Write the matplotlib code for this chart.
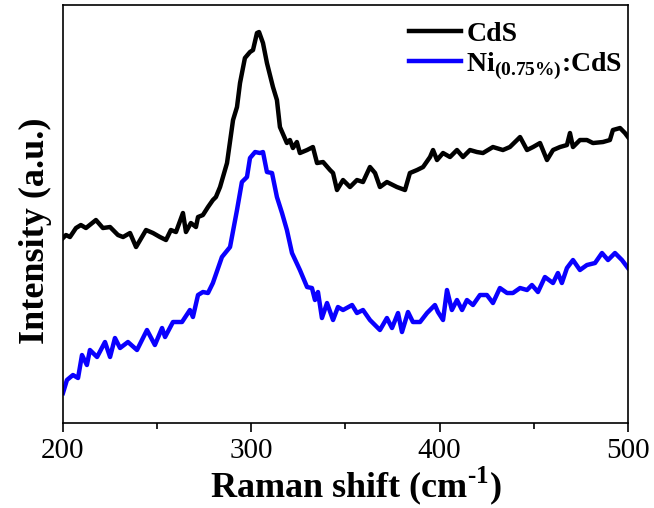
import numpy as np
import matplotlib.pyplot as plt
from matplotlib.ticker import MultipleLocator

plt.rcParams['font.family'] = 'Liberation Serif'
plt.rcParams['mathtext.fontset'] = 'custom'
plt.rcParams['mathtext.rm'] = 'Liberation Serif:bold'
plt.rcParams['mathtext.bf'] = 'Liberation Serif:bold'

## the data (Raman shift in cm-1, intensity in arbitrary units)
x_cds = [200.0, 201.6, 203.7, 206.9, 209.5, 212.2, 217.5, 221.2, 225.0, 229.2,
         231.9, 235.6, 238.8, 244.1, 247.8, 251.5, 254.7, 257.3, 260.0, 263.7,
         265.3, 267.9, 270.6, 271.7, 274.3, 277.0, 279.6, 281.2, 283.4, 287.1,
         290.3, 292.4, 294.0, 296.6, 299.3, 300.9, 303.0, 304.1, 306.2, 308.3,
         311.5, 313.6, 315.2, 318.9, 320.5, 322.1, 324.2, 325.8, 329.6, 332.7,
         334.9, 338.1, 341.8, 343.4, 345.5, 348.7, 352.4, 356.1, 359.3, 363.0,
         365.7, 368.3, 372.0, 377.3, 381.6, 384.2, 388.0, 391.2, 394.9, 396.5,
         398.6, 401.8, 405.5, 409.2, 412.4, 416.1, 419.8, 423.0, 428.3, 433.6,
         437.3, 441.1, 442.7, 446.4, 449.6, 453.3, 457.0, 460.2, 463.9, 467.6,
         469.2, 470.8, 474.5, 478.2, 481.4, 486.7, 490.4, 492.0, 495.8, 498.4,
         500.0]
y_cds = [185, 188, 186, 195, 198, 195, 203, 195, 196, 188,
         186, 190, 176, 193, 190, 186, 183, 193, 191, 210,
         191, 200, 196, 206, 208, 216, 223, 226, 236, 260,
         303, 316, 340, 365, 371, 373, 390, 391, 380, 360,
         336, 323, 296, 280, 283, 275, 281, 270, 273, 276,
         260, 261, 253, 250, 233, 243, 236, 243, 241, 256,
         250, 236, 241, 236, 233, 250, 253, 256, 266, 273,
         263, 270, 266, 273, 266, 273, 271, 270, 276, 273,
         276, 283, 286, 273, 276, 280, 263, 273, 276, 278,
         290, 276, 283, 283, 280, 281, 283, 293, 295, 290,
         286]

x_ni = [200.0, 202.1, 205.3, 208.0, 210.1, 212.7, 214.3, 218.1, 222.3, 225.0,
        227.6, 230.3, 234.5, 239.3, 244.6, 248.8, 252.6, 254.2, 258.4, 263.2,
        267.4, 269.0, 271.7, 274.3, 277.0, 279.6, 284.4, 288.7, 292.4, 295.0,
        297.7, 299.3, 302.0, 304.6, 306.2, 308.3, 311.0, 313.6, 316.3, 318.9,
        321.6, 325.8, 329.6, 332.2, 333.8, 335.4, 337.5, 340.2, 343.4, 346.0,
        348.7, 353.5, 356.1, 359.3, 363.0, 368.3, 372.0, 374.7, 377.9, 380.0,
        383.2, 385.8, 389.6, 393.3, 397.5, 399.1, 401.8, 403.9, 406.5, 409.2,
        411.9, 414.5, 417.7, 421.4, 425.1, 428.3, 432.0, 435.8, 438.9, 442.7,
        446.4, 449.0, 452.2, 455.9, 460.2, 462.8, 464.9, 467.6, 470.8, 474.5,
        478.2, 482.5, 486.2, 489.4, 493.1, 496.8, 500.0]
y_ni = [30, 43, 48, 45, 68, 58, 73, 66, 81, 66,
        85, 75, 81, 73, 93, 78, 95, 86, 101, 101,
        113, 106, 128, 131, 130, 140, 166, 176, 213, 241,
        246, 265, 271, 270, 271, 251, 250, 226, 210, 193,
        170, 153, 136, 135, 123, 131, 105, 120, 103, 116,
        113, 118, 110, 113, 103, 93, 105, 95, 110, 91,
        111, 101, 101, 110, 118, 111, 103, 133, 113, 123,
        113, 123, 118, 128, 128, 120, 135, 130, 130, 135,
        133, 138, 131, 146, 140, 150, 140, 155, 163, 153,
        158, 160, 170, 163, 170, 163, 155]

fig = plt.figure(figsize=(6.54, 5.08), dpi=100)
ax = fig.add_axes([0.0963, 0.1673, 0.8639, 0.8228])

ax.plot(x_cds, y_cds, color='black', lw=3.2, label='CdS')
ax.plot(x_ni, y_ni, color='#0a00ff', lw=3.2, label=r'Ni$_{\mathbf{(0.75\%)}}$:CdS')

# axes and labels
ax.set_xlim(200, 500)
ax.set_ylim(0, 418)
ax.xaxis.set_major_locator(MultipleLocator(100))
ax.xaxis.set_minor_locator(MultipleLocator(50))
ax.set_yticks([])
ax.tick_params(axis='x', which='major', direction='out', length=6.5, width=1.2,
               labelsize=21, pad=4, top=False)
ax.tick_params(axis='x', which='minor', direction='out', length=4.5, width=1.2, top=False)
for s in ax.spines.values():
    s.set_linewidth(1.2)

ax.set_xlabel(r'Raman shift (cm$^{\text{-1}}$)', fontsize=26, fontweight='bold')
ax.set_ylabel('Intensity (a.u.)', fontsize=26, fontweight='bold')
ax.xaxis.set_label_coords(0.519, -0.100)
ax.yaxis.set_label_coords(-0.02, 0.459)

## add a legend
ax.legend(loc='upper right', frameon=False, prop={'size': 20, 'weight': 'bold'},
          handlelength=1.9, handletextpad=0.18, labelspacing=0.1,
          borderaxespad=0.2, bbox_to_anchor=(1.02, 1.0))

fig.savefig('out.png', dpi=100)
